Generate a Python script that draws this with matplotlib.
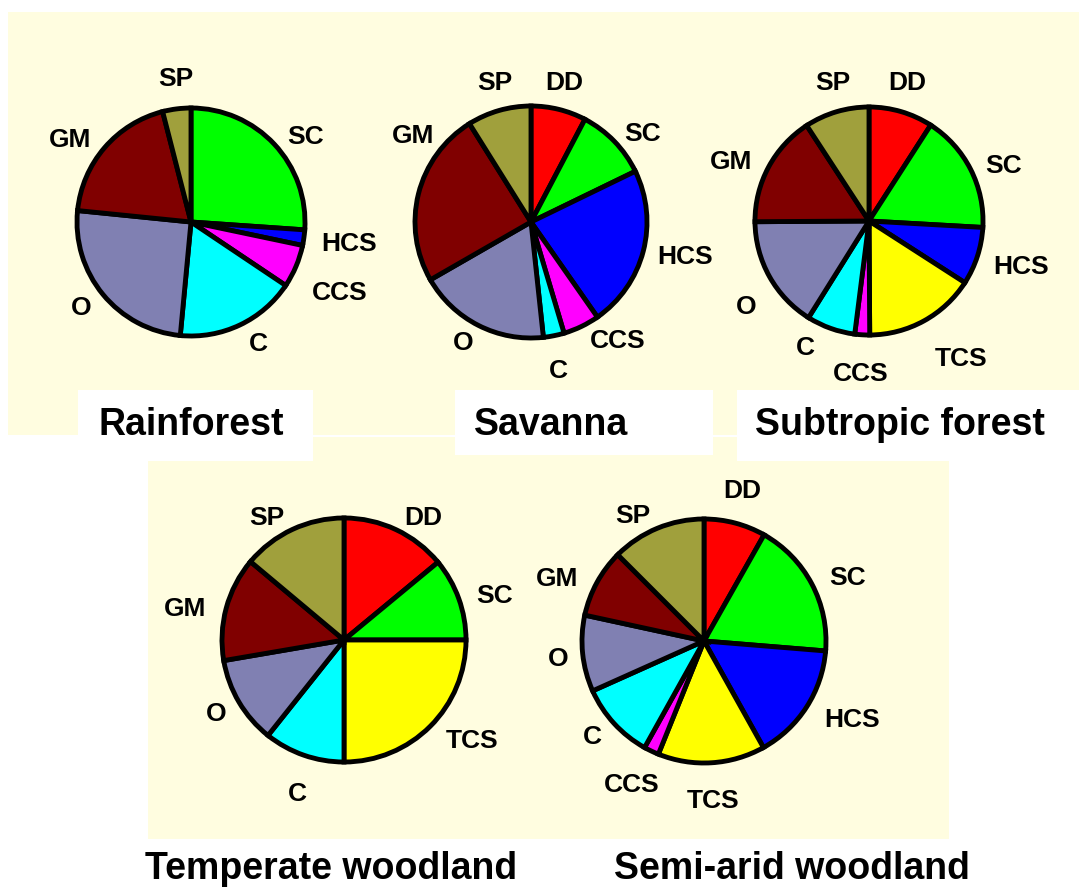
import matplotlib.pyplot as plt
from matplotlib.patches import Rectangle

plt.rcParams['font.family'] = ['Liberation Sans', 'DejaVu Sans']

# share of each group (%) per biome, slices go clockwise from 12 o'clock
rainforest_cats = ["SC", "HCS", "CCS", "C", "O", "GM", "SP"]
rainforest_vals = [26.1, 2.2, 6.1, 17.1, 25.1, 19.4, 4.0]

savanna_cats = ["DD", "SC", "HCS", "CCS", "C", "O", "GM", "SP"]
savanna_vals = [7.7, 10.1, 22.5, 5.1, 2.9, 18.4, 24.4, 8.9]

subtropic_cats = ["DD", "SC", "HCS", "TCS", "CCS", "C", "O", "GM", "SP"]
subtropic_vals = [9.1, 16.8, 8.2, 15.8, 2.1, 6.9, 16.0, 15.9, 9.2]

temperate_cats = ["DD", "SC", "TCS", "C", "O", "GM", "SP"]
temperate_vals = [14.0, 11.0, 25.0, 10.7, 11.6, 13.8, 13.9]

semiarid_cats = ["DD", "SC", "HCS", "TCS", "CCS", "C", "O", "GM", "SP"]
semiarid_vals = [8.2, 18.1, 15.6, 14.2, 2.0, 10.2, 10.1, 9.1, 12.5]

colours = {
    "DD": "#ff0000", "SC": "#00ff00", "HCS": "#0000ff", "TCS": "#ffff00",
    "CCS": "#ff00ff", "C": "#00ffff", "O": "#8080b2", "GM": "#800000",
    "SP": "#a0a03c",
}

W, H = 1079, 888
CREAM = "#fffde0"

# layout in pixels (y measured downward): pie centre, radius, title spot, label offsets
charts = [
    ("Rainforest", rainforest_cats, rainforest_vals, (191, 222), 114, (191, 435),
     {"SC": (115, -87), "HCS": (158, 20), "CCS": (149, 69), "C": (67, 120),
      "O": (-110, 84), "GM": (-121, -84), "SP": (-15, -145)}),
    ("Savanna", savanna_cats, savanna_vals, (531, 222), 116, (551, 435),
     {"DD": (33, -141), "SC": (112, -90), "HCS": (154, 33), "CCS": (87, 117),
      "C": (27, 147), "O": (-68, 119), "GM": (-118, -88), "SP": (-36, -141)}),
    ("Subtropic forest", subtropic_cats, subtropic_vals, (869, 221), 114, (900, 435),
     {"DD": (38, -140), "SC": (135, -57), "HCS": (152, 44), "TCS": (92, 136),
      "CCS": (-8, 151), "C": (-64, 125), "O": (-123, 84), "GM": (-138, -61),
      "SP": (-36, -140)}),
    ("Temperate woodland", temperate_cats, temperate_vals, (344, 640), 122, (331, 879),
     {"DD": (79, -124), "SC": (151, -46), "TCS": (128, 99), "C": (-47, 152),
      "O": (-128, 72), "GM": (-159, -33), "SP": (-77, -124)}),
    ("Semi-arid woodland", semiarid_cats, semiarid_vals, (704, 641), 122, (792, 879),
     {"DD": (38, -152), "SC": (144, -65), "HCS": (148, 77), "TCS": (9, 158),
      "CCS": (-72, 142), "C": (-112, 94), "O": (-146, 16), "GM": (-147, -64),
      "SP": (-71, -127)}),
]


def up(y):
    return H - y


def box(ax, x0, y0, x1, y1, colour):
    ax.add_patch(Rectangle((x0, up(y1)), x1 - x0, y1 - y0, facecolor=colour,
                           edgecolor="none", zorder=0))


fig = plt.figure(figsize=(W / 100, H / 100), dpi=100)
ax = fig.add_axes([0, 0, 1, 1])

# cream panels behind the pies, white boxes under the top titles
box(ax, 8, 12, W, 435, CREAM)
box(ax, 148, 437, 949, 839, CREAM)
box(ax, 78, 390, 313, 461, "white")
box(ax, 455, 390, 713, 455, "white")
box(ax, 737, 390, W, 461, "white")

for title, cats, vals, (cx, cy), r, (tx, ty), offsets in charts:
    ax.pie(vals, colors=[colours[c] for c in cats], startangle=90,
           counterclock=False, center=(cx, up(cy)), radius=r, frame=True,
           wedgeprops=dict(edgecolor="black", linewidth=3.5, joinstyle="miter"))
    for c in cats:
        dx, dy = offsets[c]
        ax.text(cx + dx, up(cy + dy + 9), c, ha="center", va="baseline",
                fontsize=19, fontweight="bold", zorder=5)
    ax.text(tx, up(ty), title, ha="center", va="baseline", fontsize=27,
            fontweight="bold", zorder=5)

ax.set_xlim(0, W)
ax.set_ylim(0, H)
ax.set_aspect("auto")
ax.axis("off")

fig.savefig("out.png", dpi=100, facecolor="white")
